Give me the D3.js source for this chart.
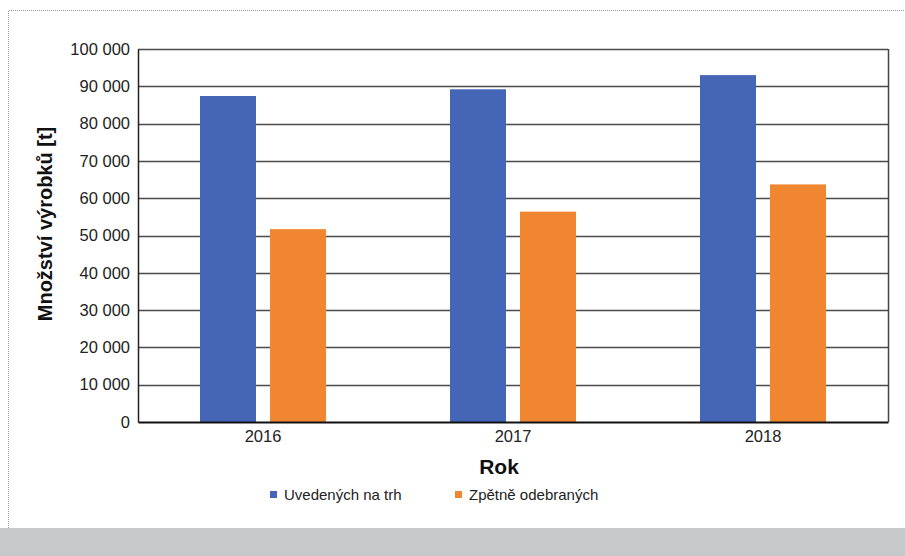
<!DOCTYPE html>
<html>
<head>
<meta charset="utf-8">
<script src="https://cdn.jsdelivr.net/npm/d3@7"></script>
<style>
  body { margin: 0; background: #fff; }
  svg { display: block; font-family: "Liberation Sans", Arial, sans-serif; }
</style>
</head>
<body>
<div id="chart-area"></div>
<script>
const years = ["2016", "2017", "2018"];
const seriesNames = ["Uvedených na trh", "Zpětně odebraných"];
const uvedenych = [87400, 89200, 93000];
const zpetne = [51700, 56400, 63700];
const yTicks = [0, 10000, 20000, 30000, 40000, 50000, 60000, 70000, 80000, 90000, 100000];
const colors = ["#4565b6", "#f0862f"];

const data = years.map((y, i) => ({ year: y, values: [uvedenych[i], zpetne[i]] }));

const svgWidth = 905;
const svgHeight = 556;
const svg = d3.select("#chart-area")
  .append("svg")
  .attr("width", svgWidth)
  .attr("height", svgHeight);

// page frame: dotted border and grey strip at the bottom
svg.append("rect")
  .attr("x", 0).attr("y", 528)
  .attr("width", svgWidth).attr("height", 28)
  .attr("fill", "#c6c8c9");
svg.append("path")
  .attr("d", "M8.5,528 V10.5 H905")
  .attr("fill", "none")
  .attr("stroke", "#9a9a9a")
  .attr("stroke-width", 1)
  .attr("stroke-dasharray", "1,1");

const margin = { top: 49, left: 138 };
const chartWidth = 750;
const chartHeight = 373;

const g = svg.append("g")
  .attr("transform", `translate(${margin.left},${margin.top})`);

const x0 = d3.scaleBand()
  .domain(years)
  .range([0, chartWidth])
  .padding(0);

const x1 = d3.scaleBand()
  .domain(seriesNames)
  .range([62, 188])
  .paddingInner(0.2);

const y = d3.scaleLinear()
  .domain([0, 100000])
  .range([chartHeight, 0]);

const fmt = v => d3.format(",")(v).replace(/,/g, " ");

// gridlines
g.selectAll(".grid")
  .data(yTicks.slice(1))
  .enter()
  .append("line")
  .attr("x1", 0).attr("x2", chartWidth)
  .attr("y1", d => Math.round(y(d)) + 0.5)
  .attr("y2", d => Math.round(y(d)) + 0.5)
  .attr("stroke", "#4a4a4a")
  .attr("stroke-width", 1.3);

// right border
g.append("line")
  .attr("x1", chartWidth + 0.5).attr("x2", chartWidth + 0.5)
  .attr("y1", 0).attr("y2", chartHeight)
  .attr("stroke", "#444").attr("stroke-width", 1.5);

// bars
const groups = g.selectAll(".year")
  .data(data)
  .enter()
  .append("g")
  .attr("transform", d => `translate(${x0(d.year)},0)`);

groups.selectAll("rect")
  .data(d => d.values.map((v, i) => ({ name: seriesNames[i], value: v, i })))
  .enter()
  .append("rect")
  .attr("x", d => x1(d.name))
  .attr("y", d => y(d.value))
  .attr("width", x1.bandwidth())
  .attr("height", d => chartHeight - y(d.value))
  .attr("fill", d => colors[d.i]);

// y axis
const yAxis = g.append("g")
  .call(d3.axisLeft(y).tickValues(yTicks).tickFormat(fmt).tickSize(0).tickPadding(8));
yAxis.select(".domain").attr("stroke", "#222").attr("stroke-width", 1.5);
yAxis.selectAll("text")
  .attr("font-size", 16.5)
  .attr("fill", "#222");

// x axis
const xAxis = g.append("g")
  .attr("transform", `translate(0,${chartHeight})`)
  .call(d3.axisBottom(x0).tickSize(0).tickPadding(8));
xAxis.select(".domain").attr("stroke", "#111").attr("stroke-width", 2);
xAxis.selectAll("text")
  .attr("font-size", 16.5)
  .attr("fill", "#222");

// axis titles
svg.append("text")
  .attr("transform", "translate(52,224) rotate(-90)")
  .attr("text-anchor", "middle")
  .attr("font-size", 20)
  .attr("font-weight", "bold")
  .attr("fill", "#111")
  .text("Množství výrobků [t]");

svg.append("text")
  .attr("x", 499).attr("y", 474)
  .attr("text-anchor", "middle")
  .attr("font-size", 21)
  .attr("font-weight", "bold")
  .attr("fill", "#111")
  .text("Rok");

// legend
const legendX = [270, 455];
const legend = svg.selectAll(".legend")
  .data(seriesNames)
  .enter()
  .append("g")
  .attr("transform", (d, i) => `translate(${legendX[i]},495)`);
legend.append("rect")
  .attr("x", 0).attr("y", -4)
  .attr("width", 7).attr("height", 7)
  .attr("fill", (d, i) => colors[i]);
legend.append("text")
  .attr("x", 14).attr("y", 5)
  .attr("font-size", 15)
  .attr("fill", "#222")
  .text(d => d);
</script>
</body>
</html>
